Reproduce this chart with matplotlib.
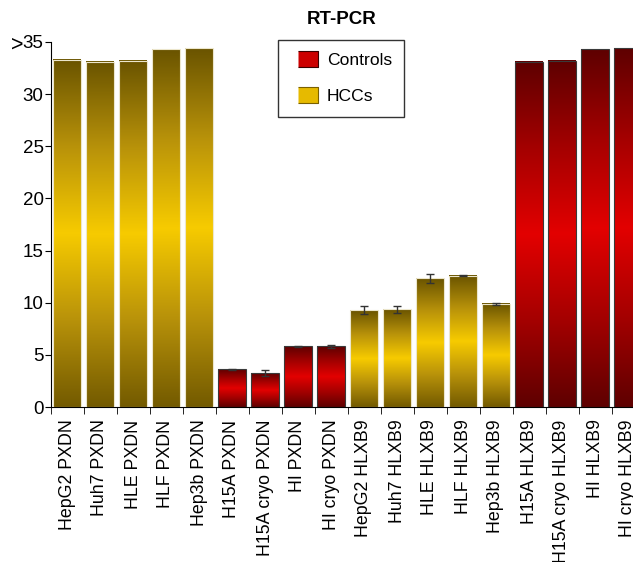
import matplotlib
matplotlib.use("Agg")
import matplotlib.pyplot as plt
import numpy as np
from matplotlib.colors import LinearSegmentedColormap
from matplotlib.lines import Line2D

plt.rcParams['font.family'] = ['Liberation Sans', 'DejaVu Sans']

labels = ["HepG2 PXDN", "Huh7 PXDN", "HLE PXDN", "HLF PXDN", "Hep3b PXDN",
          "H15A PXDN", "H15A cryo PXDN", "HI PXDN", "HI cryo PXDN",
          "HepG2 HLXB9", "Huh7 HLXB9", "HLE HLXB9", "HLF HLXB9", "Hep3b HLXB9",
          "H15A HLXB9", "H15A cryo HLXB9", "HI HLXB9", "HI cryo HLXB9"]
values = [33.3, 33.1, 33.2, 34.3, 34.4,
          3.6, 3.25, 5.82, 5.82,
          9.3, 9.37, 12.35, 12.6, 9.88,
          33.1, 33.2, 34.3, 34.4]
errors = [0, 0, 0, 0, 0,
          0.07, 0.28, 0.07, 0.15,
          0.37, 0.35, 0.42, 0.08, 0.1,
          0, 0, 0, 0]
groups = ["HCC"] * 5 + ["Control"] * 4 + ["HCC"] * 5 + ["Control"] * 4
yticks = [0, 5, 10, 15, 20, 25, 30, 35]

gold = LinearSegmentedColormap.from_list("gold", ["#735a00", "#b8920a", "#f7cb00", "#b8920a", "#6a5400"])
red = LinearSegmentedColormap.from_list("red", ["#5e0000", "#a40000", "#e30000", "#a40000", "#5e0000"])

fig = plt.figure(figsize=(6.33, 5.62), dpi=100)
ax = fig.add_axes([50.5 / 633, 155 / 562, 594 / 633, 365 / 562])

grad = np.linspace(0, 1, 256).reshape(-1, 1)
w = 0.82
for i, v in enumerate(values):
    x0 = i + 0.5 - w / 2
    cmap = gold if groups[i] == "HCC" else red
    ax.imshow(grad, cmap=cmap, origin="lower", aspect="auto",
              extent=[x0, x0 + w, 0, v], zorder=2)
    ec = "#ece6cc" if groups[i] == "HCC" else "#3a3a3a"
    ax.add_patch(plt.Rectangle((x0, 0), w, v, fill=False, ec=ec, lw=0.8, zorder=3))
    if errors[i] > 0:
        ax.errorbar(i + 0.5, v, yerr=errors[i], color="#333333", lw=1,
                    capsize=3, capthick=1, zorder=4)

ax.set_xlim(0, 18)
ax.set_ylim(0, 35)
ax.spines['top'].set_visible(False)
ax.spines['right'].set_visible(False)

ax.set_xticks(np.arange(18) + 0.5)
ax.set_xticklabels(labels, rotation=90, fontsize=12.8)
ax.tick_params(axis='x', which='major', length=0, pad=9)
ax.set_xticks(np.arange(0, 19), minor=True)
ax.tick_params(axis='x', which='minor', length=5, direction='out')

ax.set_yticks(yticks)
ax.set_yticklabels([str(t) for t in yticks], fontsize=13.5)
ax.tick_params(axis='y', length=4, direction='out', pad=1)
# the ">" in front of the top tick
ax.text(-27.5 / 594, 34.2, ">", transform=ax.get_yaxis_transform(),
        ha="right", va="baseline", fontsize=15.5)

fig.text(342 / 633, 1 - 20 / 562, "RT-PCR", ha="center", va="center",
         fontsize=13.5, fontweight="bold")

rect = [(-1, -0.73), (1, -0.73), (1, 0.73), (-1, 0.73)]
handles = [Line2D([], [], ls="none", marker=rect, markersize=15,
                  markerfacecolor="#cc0000", markeredgecolor="#3a0000",
                  markeredgewidth=0.8, label="Controls"),
           Line2D([], [], ls="none", marker=rect, markersize=15,
                  markerfacecolor="#e6ba00", markeredgecolor="#7a6000",
                  markeredgewidth=0.8, label="HCCs")]
leg = fig.legend(handles=handles, loc="upper left",
                 bbox_to_anchor=(278 / 633, 1 - 40 / 562), borderaxespad=0,
                 fontsize=12.6, frameon=True, fancybox=False, edgecolor="black",
                 handlelength=1.94, labelspacing=1.22,
                 borderpad=0.72, handletextpad=0.12)
leg.get_frame().set_linewidth(1)

fig.savefig("out.png", dpi=100)
